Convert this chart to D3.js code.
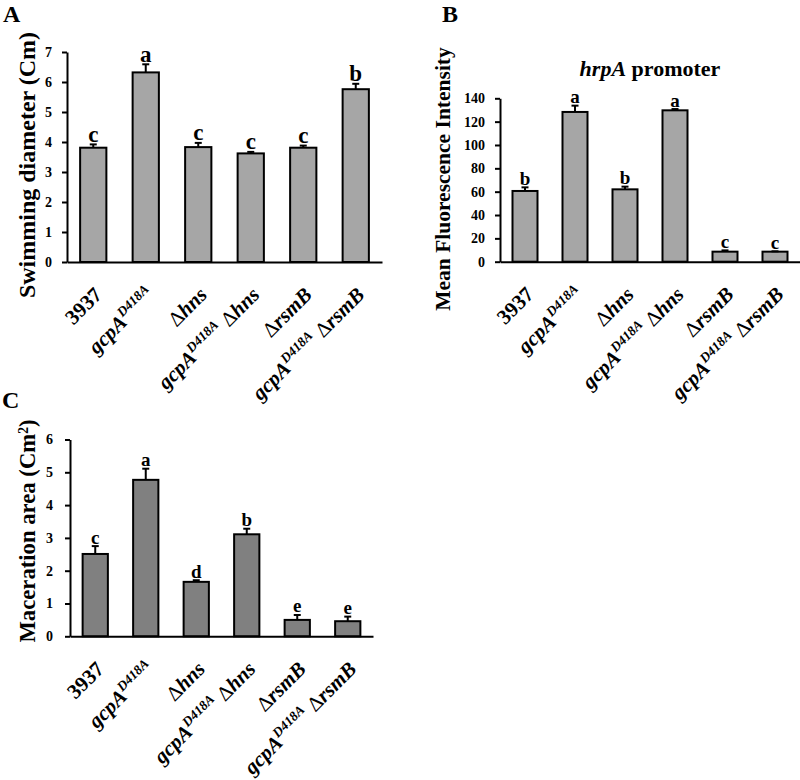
<!DOCTYPE html>
<html>
<head>
<meta charset="utf-8">
<script src="https://cdn.jsdelivr.net/npm/d3@7"></script>
<style>
  html, body { margin: 0; padding: 0; background: #fff; }
  svg { display: block; }
  text { font-family: "Liberation Serif", "Times New Roman", Times, serif; font-weight: bold; fill: #000; }
</style>
</head>
<body>
<svg id="chart" width="800" height="780"></svg>
<script>
// ---------------- DATA ----------------
const categories = ["3937", "gcpA D418A", "Δhns", "gcpA D418A Δhns", "ΔrsmB", "gcpA D418A ΔrsmB"];

// rich-text pieces of each category label (i = italic, sup = superscript, n = normal weight)
const categoryLabelParts = [
  [{t: "3937"}],
  [{t: "gcpA", i: 1}, {t: "D418A", i: 1, sup: 1}],
  [{t: "Δ", n: 1}, {t: "hns", i: 1}],
  [{t: "gcpA", i: 1}, {t: "D418A", i: 1, sup: 1}, {t: " Δ", n: 1}, {t: "hns", i: 1}],
  [{t: "Δ", n: 1}, {t: "rsmB", i: 1}],
  [{t: "gcpA", i: 1}, {t: "D418A", i: 1, sup: 1}, {t: " Δ", n: 1}, {t: "rsmB", i: 1}]
];

// Panel A: swimming diameter (Cm)
const swimValues  = [3.81, 6.32, 3.83, 3.62, 3.81, 5.76];
const swimErrors  = [0.11, 0.27, 0.14, 0.05, 0.07, 0.18];
const swimLetters = ["c", "a", "c", "c", "c", "b"];
const swimTicks   = [0, 1, 2, 3, 4, 5, 6, 7];

// Panel B: hrpA promoter, mean fluorescence intensity
const fluorValues  = [60.6, 128.3, 62.0, 129.7, 8.6, 8.6];
const fluorErrors  = [3.1, 5.4, 2.3, 1.1, 1.1, 0.3];
const fluorLetters = ["b", "a", "b", "a", "c", "c"];
const fluorTicks   = [0, 20, 40, 60, 80, 100, 120, 140];

// Panel C: maceration area (Cm2)
const macerValues  = [2.51, 4.77, 1.66, 3.11, 0.50, 0.46];
const macerErrors  = [0.24, 0.34, 0.05, 0.17, 0.15, 0.14];
const macerLetters = ["c", "a", "d", "b", "e", "e"];
const macerTicks   = [0, 1, 2, 3, 4, 5, 6];

// ---------------- DRAWING ----------------
const svg = d3.select("#chart");
const SERIF = '"Liberation Serif", "Times New Roman", Times, serif';

function drawPanel(cfg) {
  const g = svg.append("g");
  const x = d3.scaleBand().domain(categories).range(cfg.xRange)
    .paddingInner(0.5).paddingOuter(0.25);
  const y = d3.scaleLinear().domain(cfg.yDomain).range(cfg.yRange);
  const data = categories.map((c, i) => ({c, v: cfg.values[i], e: cfg.errors[i], l: cfg.letters[i], parts: categoryLabelParts[i]}));

  // bars
  g.selectAll("rect.bar").data(data).enter().append("rect")
    .attr("class", "bar")
    .attr("x", d => x(d.c))
    .attr("width", x.bandwidth())
    .attr("y", d => y(d.v))
    .attr("height", d => y(0) - y(d.v))
    .attr("fill", cfg.fill)
    .attr("stroke", "#000")
    .attr("stroke-width", 2);

  // error bars (upper only)
  const cx = d => x(d.c) + x.bandwidth() / 2;
  g.selectAll("line.err").data(data).enter().append("line")
    .attr("x1", cx).attr("x2", cx)
    .attr("y1", d => y(d.v)).attr("y2", d => y(d.v + d.e))
    .attr("stroke", "#000").attr("stroke-width", 2);
  g.selectAll("line.cap").data(data).enter().append("line")
    .attr("x1", d => cx(d) - 3.5).attr("x2", d => cx(d) + 3.5)
    .attr("y1", d => y(d.v + d.e)).attr("y2", d => y(d.v + d.e))
    .attr("stroke", "#000").attr("stroke-width", 2);

  // significance letters
  g.selectAll("text.sig").data(data).enter().append("text")
    .attr("x", cx)
    .attr("y", d => y(d.v + d.e) - 2.5)
    .attr("text-anchor", "middle")
    .style("font-size", cfg.letterSize + "px")
    .text(d => d.l);

  // y axis
  const yAxis = d3.axisLeft(y).tickValues(cfg.ticks).tickFormat(d3.format("d"))
    .tickSize(5).tickPadding(cfg.tickPad).tickSizeOuter(0);
  const ya = g.append("g").attr("transform", `translate(${cfg.xRange[0]},0)`)
    .call(yAxis)
    .attr("font-family", SERIF).attr("font-size", 14).attr("font-weight", "bold");
  ya.select(".domain").attr("stroke-width", 2);
  ya.selectAll(".tick line").attr("stroke-width", 2);
  ya.selectAll(".tick text").style("font-family", SERIF).style("font-size", "14px").style("font-weight", "bold");

  // x axis line
  const xAxis = d3.axisBottom(x).tickSize(0).tickFormat("").tickSizeOuter(0);
  const xa = g.append("g").attr("transform", `translate(0,${cfg.yRange[0]})`).call(xAxis);
  xa.select(".domain").attr("stroke-width", 2);

  // rotated category labels
  const lab = g.selectAll("text.cat").data(data).enter().append("text")
    .attr("class", "cat")
    .attr("text-anchor", "end")
    .attr("transform", d => `translate(${cx(d) + 10},${cfg.yRange[0] + 34}) rotate(-45)`)
    .style("font-size", "21px");
  lab.each(function(d) {
    const t = d3.select(this);
    let raised = false;
    d.parts.forEach(p => {
      const ts = t.append("tspan").text(p.t);
      if (p.i) ts.style("font-style", "italic");
      if (p.n) ts.style("font-weight", "normal");
      if (p.sup) { ts.style("font-size", "13.5px").attr("dy", "-8.5"); raised = true; }
      else if (raised) { ts.attr("dy", "8.5"); raised = false; }
    });
  });

  // y axis title
  const yt = g.append("text")
    .attr("text-anchor", "middle")
    .attr("transform", `translate(${cfg.yTitleX},${cfg.yTitleY}) rotate(-90)`)
    .style("font-size", cfg.yTitleSize + "px");
  cfg.yTitle.forEach(p => {
    const ts = yt.append("tspan").text(p.t);
    if (p.sup) ts.style("font-size", "0.6em").attr("dy", "-0.55em");
    if (p.after) ts.attr("dy", "0.33em");
  });

  // panel letter
  svg.append("text").attr("x", cfg.panelX).attr("y", cfg.panelY)
    .style("font-size", "24px").text(cfg.panel);
  return {x, y};
}

drawPanel({
  panel: "A", panelX: 3, panelY: 22,
  values: swimValues, errors: swimErrors, letters: swimLetters, ticks: swimTicks,
  xRange: [67, 382], yDomain: [0, 7], yRange: [262, 52],
  fill: "#a6a6a6", letterSize: 23, tickPad: 10,
  yTitle: [{t: "Swimming diameter (Cm)"}], yTitleX: 35, yTitleY: 165, yTitleSize: 24
});

drawPanel({
  panel: "B", panelX: 442, panelY: 22,
  values: fluorValues, errors: fluorErrors, letters: fluorLetters, ticks: fluorTicks,
  xRange: [500, 800], yDomain: [0, 140], yRange: [261.7, 98.3],
  fill: "#a6a6a6", letterSize: 19, tickPad: 10,
  yTitle: [{t: "Mean Fluorescence Intensity"}], yTitleX: 450, yTitleY: 179, yTitleSize: 21.5
});

// panel B chart title
const bt = svg.append("text").attr("x", 650).attr("y", 76).attr("text-anchor", "middle")
  .style("font-size", "22px");
bt.append("tspan").text("hrpA").style("font-style", "italic");
bt.append("tspan").text(" promoter");

drawPanel({
  panel: "C", panelX: 2, panelY: 408,
  values: macerValues, errors: macerErrors, letters: macerLetters, ticks: macerTicks,
  xRange: [70, 373], yDomain: [0, 6], yRange: [636.3, 439.5],
  fill: "#808080", letterSize: 19, tickPad: 12,
  yTitle: [{t: "Maceration area (Cm"}, {t: "2", sup: 1}, {t: ")", after: 1}], yTitleX: 35, yTitleY: 531, yTitleSize: 22.7
});
</script>
</body>
</html>
